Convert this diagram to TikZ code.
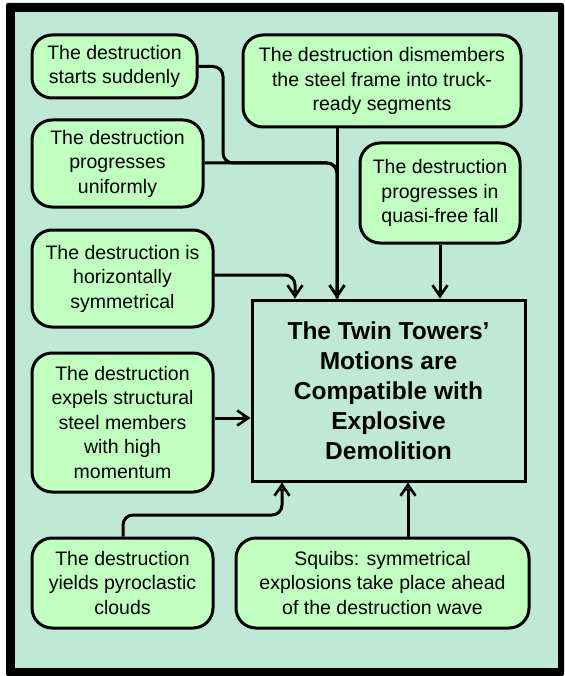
\documentclass[tikz,border=0pt]{standalone}
\usepackage{fontspec}
\setmainfont{Liberation Sans}
\usetikzlibrary{arrows.meta}
\definecolor{bgteal}{RGB}{192,232,214}
\definecolor{boxgreen}{RGB}{192,255,192}
\tikzset{
  claim/.style={draw=black, line width=3pt, fill=boxgreen, rounded corners=20pt,
    align=center, inner sep=0pt, font=\fontsize{19.5}{24.5}\selectfont},
  mainbox/.style={draw=black, line width=3pt, fill=bgteal, align=center, inner sep=0pt,
    font=\fontsize{24.5}{30}\selectfont\bfseries},
  conn/.style={draw=black, line width=3pt, rounded corners=10pt,
    -{Straight Barb[length=11pt,width=15pt,line width=2.6pt,sep=-8pt]Triangle[open,length=8pt,width=8pt,line width=2.2pt]}},
  link/.style={draw=black, line width=3pt, rounded corners=10pt},
}
\begin{document}
\begin{tikzpicture}[x=1pt,y=-1pt]
\useasboundingbox (0,0) rectangle (564,676);
\fill[black, rounded corners=2pt] (6,3) rectangle (564,676);
\fill[bgteal] (15,12) rectangle (558,668);

\node[claim, minimum width=165pt, minimum height=63pt] (starts) at (114.5,66.5) {The destruction\\starts suddenly};
\node[claim, minimum width=171pt, minimum height=87pt] (unif) at (117.5,163.5) {The destruction\\progresses\\uniformly};
\node[claim, minimum width=278pt, minimum height=92pt] (dism) at (382,81) {The destruction dismembers\\the steel frame into truck-\\ready segments};
\node[claim, minimum width=160pt, minimum height=100pt] (quasi) at (440,193) {The destruction\\progresses in\\quasi-free fall};
\node[claim, minimum width=181pt, minimum height=97pt] (horiz) at (122.5,278.5) {The destruction is\\horizontally\\symmetrical};
\node[claim, minimum width=181pt, minimum height=139pt] (expels) at (122.5,422.5) {The destruction\\expels structural\\steel members\\with high\\momentum};
\node[mainbox, minimum width=273pt, minimum height=181pt] (main) at (388.5,390.5) {The Twin Towers'\\Motions are\\Compatible with\\Explosive\\Demolition};
\node[claim, minimum width=181pt, minimum height=90pt] (pyro) at (122.5,583) {The destruction\\yields pyroclastic\\clouds};
\node[claim, minimum width=293pt, minimum height=90pt] (squibs) at (382.5,583) {Squibs: symmetrical\\explosions take place ahead\\of the destruction wave};

\coordinate (xa) at (337,0);
\coordinate (xb) at (223,0);
\coordinate (xc) at (295,0);
\coordinate (xd) at (440,0);
\coordinate (xe) at (123,0);
\coordinate (xf) at (282,0);
\coordinate (xg) at (408,0);
\coordinate (ya) at (0,163);
\coordinate (yb) at (0,275);
\coordinate (yc) at (0,418);
\coordinate (yd) at (0,515);

\draw[link] (starts.east) -- (xb |- starts.east) -- (xb |- ya) -- (xa |- ya) -- (xa |- main.north);
\draw[conn] (unif.east |- ya) -- (xa |- ya) -- (xa |- main.north);
\draw[conn] (xa |- dism.south) -- (xa |- main.north);
\draw[conn] (horiz.east |- yb) -- (xc |- yb) -- (xc |- main.north);
\draw[conn] (xd |- quasi.south) -- (xd |- main.north);
\draw[conn] (expels.east |- yc) -- (main.west |- yc);
\draw[conn] (xe |- pyro.north) -- (xe |- yd) -- (xf |- yd) -- (xf |- main.south);
\draw[conn] (xg |- squibs.north) -- (xg |- main.south);
\end{tikzpicture}
\end{document}
